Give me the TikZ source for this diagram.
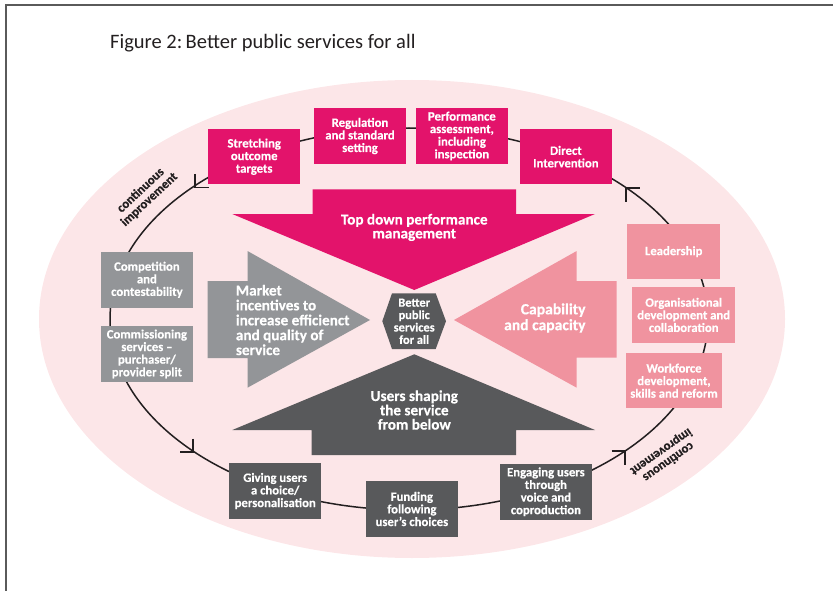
\documentclass[tikz,border=0pt]{standalone}
\usepackage{fontspec}
\setmainfont{Carlito}[BoldFeatures={FakeBold=0.4}]
\definecolor{magentaC}{HTML}{E3136B}
\definecolor{pinkC}{HTML}{F0939F}
\definecolor{greyC}{HTML}{939598}
\definecolor{darkC}{HTML}{58595B}
\definecolor{paleC}{HTML}{FCE6E8}
\definecolor{ringC}{HTML}{231F20}
\definecolor{frameC}{HTML}{5A5A5A}
\begin{document}
\begin{tikzpicture}[x=1pt,y=-1pt,
  boxstyle/.style={inner sep=0pt, text=white, align=center,
    font=\bfseries\fontsize{12.7}{12.6}\selectfont},
  topbox/.style={boxstyle, fill=magentaC, minimum width=91.7pt, minimum height=55.3pt},
  leftbox/.style={boxstyle, fill=greyC, minimum width=91.7pt, minimum height=55.5pt},
  rightbox/.style={boxstyle, fill=pinkC, minimum height=55.5pt},
  botbox/.style={boxstyle, fill=darkC, minimum width=91.7pt, minimum height=55.4pt},
  bigtext/.style={inner sep=0pt, text=white, font=\bfseries\fontsize{15.2}{14.9}\selectfont},
  ringline/.style={draw=ringC, line width=1.5pt},
  barb/.style={draw=ringC, line width=1.5pt},
  cilabel/.style={inner sep=0pt, text=ringC, align=center, font=\bfseries\fontsize{12.8}{12.6}\selectfont}
]
\useasboundingbox (0,0) rectangle (833,591);
% frame
\draw[frameC, line width=1.3pt] (6,591) -- (6,5) -- (833,5);
% title
\node[anchor=west, inner sep=0pt, font=\fontsize{20.5}{22}\selectfont, text=ringC] (title) at (110,43) {Figure 2:\,Better public services for all};
% pale background
\fill[paleC] (412,319) ellipse [x radius=373pt, y radius=239pt];
% ring
\draw[ringline] (409,319) ellipse [x radius=299pt, y radius=191pt];
% arrow barbs (all counter-clockwise)
\coordinate (tl) at (195,187.3);
\coordinate (bl) at (193,452);
\coordinate (br) at (625,451);
\coordinate (tr) at (626,188);
\draw[barb] ([yshift=13.5pt]tl) -- (tl) -- ([xshift=13.5pt]tl);
\draw[barb] ([yshift=13.5pt]bl) -- (bl) -- ([xshift=-13.5pt]bl);
\draw[barb] ([xshift=-13.5pt]br) -- (br) -- ([yshift=-13.5pt]br);
\draw[barb] ([yshift=-13.5pt]tr) -- (tr) -- ([xshift=13.5pt]tr);
% continuous improvement labels
\node[cilabel, rotate=43] (cileft) at (145,195) {continuous\\improvement};
\node[cilabel, rotate=215] (ciright) at (664.6,456.6) {continuous\\improvement};
% big arrows
\fill[magentaC] (312.7,189.3) -- (516,189.3) -- (516,214) -- (595,214) -- (414.3,290) -- (232.3,214) -- (312.7,214) -- cycle;
\fill[darkC] (414.3,354.3) -- (595,430) -- (516,430) -- (516,455) -- (311.7,455) -- (311.7,430) -- (232.3,430) -- cycle;
\fill[greyC] (207.5,281) -- (247.5,281) -- (247.5,251) -- (370,320) -- (247.5,387.7) -- (247.5,358) -- (207.5,358) -- cycle;
\fill[pinkC] (454,320) -- (576.7,251) -- (576.7,281) -- (616.7,281) -- (616.7,357.7) -- (576.7,357.7) -- (576.7,387.7) -- cycle;
\node[bigtext, align=center, font=\bfseries\fontsize{15.2}{13.9}\selectfont] (topdown) at (414.3,227.4) {Top down performance\\management};
\node[bigtext, align=center, font=\bfseries\fontsize{15.2}{14.3}\selectfont] (users) at (414.3,410) {Users shaping\\the service\\from below};
\node[bigtext, align=left, anchor=west] (market) at (235.7,320) {Market\\incentives to\\increase efficienct\\and quality of\\service};
\node[bigtext, align=right, anchor=east, font=\bfseries\fontsize{15.6}{15.8}\selectfont] (capab) at (585.7,318) {Capability\\and capacity};
% hexagon
\fill[darkC] (382.3,321.2) -- (392,293.3) -- (435.7,293.3) -- (446,321.2) -- (435.7,349) -- (392,349) -- cycle;
\node[boxstyle, font=\bfseries\fontsize{12.4}{12.4}\selectfont] (hex) at (414.2,321.3) {Better\\public\\services\\for all};
% top boxes
\node[topbox] (stretch) at (254.2,156.7) {Stretching\\outcome\\targets};
\node[topbox] (regul) at (360,136) {Regulation\\and standard\\setting};
\node[topbox] (perf) at (461.9,136) {Performance\\assessment,\\including\\inspection};
\node[topbox] (direct) at (565.9,156.7) {Direct\\Intervention};
% left boxes
\node[leftbox] (compet) at (146.9,279.8) {Competition\\and\\contestability};
\node[leftbox] (commis) at (146.9,353.9) {Commissioning\\services --\\purchaser/\\provider split};
% right boxes
\node[rightbox, minimum width=92.7pt] (lead) at (673.7,251.7) {Leadership};
\node[rightbox, minimum width=102.7pt] (org) at (683.7,314.9) {Organisational\\development and\\collaboration};
\node[rightbox, minimum width=96pt] (work) at (674,380.7) {Workforce\\development,\\skills and reform};
% bottom boxes
\node[botbox] (giving) at (275.2,491) {Giving users\\a choice/\\personalisation};
\node[botbox] (funding) at (411.9,509) {Funding\\following\\user’s choices};
\node[botbox] (engage) at (545.9,491.8) {Engaging users\\through\\voice and\\coproduction};
\end{tikzpicture}
\end{document}
